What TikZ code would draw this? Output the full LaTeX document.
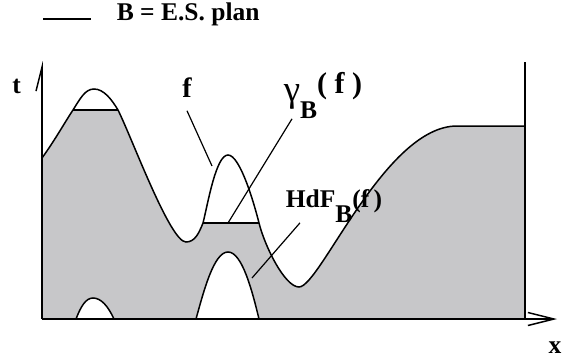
\documentclass[tikz,border=0pt]{standalone}
\usepackage{fontspec}
\setmainfont{Liberation Serif}
\usetikzlibrary{arrows.meta}
\definecolor{hullgray}{RGB}{199,199,201}
\begin{document}
\begin{tikzpicture}[x=1pt,y=-1pt,line width=1.5pt,
  lbl/.style={font=\fontsize{25.5}{28}\selectfont\bfseries,inner sep=0pt},
  leader/.style={line width=1.2pt}]
\useasboundingbox (0,0) rectangle (564,361);
% points on f
\coordinate (f0) at (42,158);
\coordinate (c1l) at (73,110);
\coordinate (c1r) at (118,110);
\coordinate (m1) at (186,242);
\coordinate (c2l) at (203,223);
\coordinate (c2r) at (259,223);
\coordinate (m2) at (299,287);
\coordinate (pl) at (457,126);
\coordinate (fe) at (525,126);
\def\fcurve{(f0) .. controls (55,140) and (65,122) .. (c1l)
  .. controls (80,99) and (85,89) .. (94,89)
  .. controls (104,89) and (112,100) .. (c1r)
  .. controls (132,138) and (170,242) .. (m1)
  .. controls (195,242) and (199,233) .. (c2l)
  .. controls (208,203) and (216,155) .. (228,155)
  .. controls (240,155) and (254,203) .. (c2r)
  .. controls (265,247) and (285,287) .. (m2)
  .. controls (320,287) and (385,126) .. (pl) -- (fe)}
% axes corners
\coordinate (o) at (42,319);
\coordinate (ytop) at (42,61);
\coordinate (xend) at (557,319);
\coordinate (rtop) at (525,62);
\coordinate (rbot) at (525,319);
% hull under f, cut at the plans
\fill[hullgray] \fcurve -- (rbot) -- (o) -- cycle;
\begin{scope}
\clip \fcurve -- (rbot) -- (o) -- cycle;
\fill[white] (73,60) rectangle (c1r);
\fill[white] (203,140) rectangle (c2r);
\end{scope}
\filldraw[fill=white] (76,319) .. controls (81,306) and (86,298) .. (93,298)
  .. controls (101,298) and (108,306) .. (114,319);
\filldraw[fill=white] (196,319) .. controls (204,290) and (214,252) .. (228,252)
  .. controls (242,252) and (252,290) .. (259,319);
\draw \fcurve;
\draw (c1l) -- (c1r);
\draw (c2l) -- (c2r);
% axes
\draw[-{Straight Barb[left,length=24pt,width=12pt]}] (o) -- (ytop);
\draw[-{Straight Barb[length=26pt,width=13pt]}] (o) -- (xend);
\draw (rtop) -- (rbot);
% legend
\coordinate (lg0) at (43,19);
\coordinate (lg1) at (91,19);
\draw[leader] (lg0) -- (lg1);
\node[lbl,anchor=base west] (legend) at (116,21) {B = E.S. plan};
% labels
\node[lbl,anchor=base] (tlab) at (16.5,93) {t};
\node[lbl,anchor=base] (xlab) at (555,353) {x};
\node[lbl,anchor=base,font=\fontsize{28}{30}\selectfont\bfseries] (flab) at (187,97) {f};
\node[lbl,anchor=base west] (gam) at (283,101)
  {{\mdseries\fontsize{37}{40}\selectfont γ}\raisebox{-17pt}{B}%
   \raisebox{8pt}{\fontsize{30}{32}\selectfont( f )}};
\node[lbl,anchor=base west] (hdf) at (285,207) {HdF\raisebox{-15pt}{B}(f\,)};
\coordinate (fpt) at (212,166);
\coordinate (gpt) at (228,223);
\coordinate (hpt) at (252,278);
\draw[leader] ([yshift=-13pt]flab.south) -- (fpt);
\draw[leader] ([xshift=9pt]gam.south west) -- (gpt);
\draw[leader] ([xshift=15pt]hdf.south west) -- (hpt);
\end{tikzpicture}
\end{document}
